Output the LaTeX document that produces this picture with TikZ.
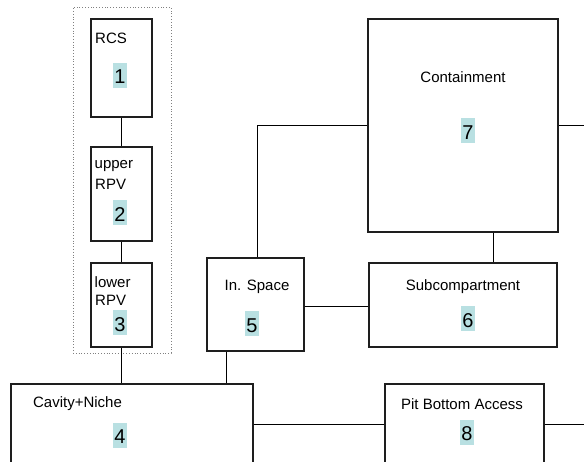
\documentclass[tikz,border=0pt]{standalone}
\usepackage{fontspec}
\setmainfont{Liberation Sans}
\usetikzlibrary{calc}
\definecolor{hl}{RGB}{185,224,226}
\definecolor{boxline}{RGB}{30,30,30}
\tikzset{
  room/.style={draw=boxline, line width=1.4pt, rectangle, inner sep=0pt, fill=white},
  lbl/.style={font=\fontsize{15}{17}\selectfont, inner sep=0pt},
  num/.style={fill=hl, font=\fontsize{20}{24}\selectfont, inner xsep=1.5pt, inner ysep=0pt, text height=21pt, text depth=4pt},
  link/.style={draw=black, line width=0.9pt},
  group/.style={draw=gray, dotted, line width=0.8pt}
}
\begin{document}
\begin{tikzpicture}[x=1pt,y=-1pt]
\useasboundingbox (0,0) rectangle (584,462);
\begin{scope}
\clip (0,0) rectangle (584,462);
% group outline
\node[group, minimum width=98pt, minimum height=346pt, inner sep=0pt] (grp) at (122,180) {};
% boxes
\node[room, minimum width=61pt, minimum height=98pt] (b1) at (121.5,68) {};
\node[room, minimum width=61pt, minimum height=94pt] (b2) at (121.5,194) {};
\node[room, minimum width=61pt, minimum height=84pt] (b3) at (121.5,305) {};
\node[room, minimum width=97pt, minimum height=93pt] (b5) at (255.5,304.5) {};
\node[room, minimum width=188pt, minimum height=84pt] (b6) at (463,305) {};
\node[room, minimum width=190pt, minimum height=213pt] (b7) at (463,125.5) {};
\node[room, minimum width=242pt, minimum height=80pt] (b4) at (132,424) {};
\node[room, minimum width=159pt, minimum height=80pt] (b8) at (464.5,424) {};
% free ends
\coordinate (e7) at (590,125.5);
\coordinate (e8) at (590,424);
% connectors
\draw[link] (b1.south) -- (b2.north);
\draw[link] (b2.south) -- (b3.north);
\draw[link] (b3.south) -- (b3.south |- b4.north);
\draw[link] ([xshift=20pt]b5.south west) -- ([xshift=20pt]b5.south west |- b4.north);
\draw[link] ([xshift=1.5pt]b5.north) |- (b7.west);
\draw[link] ([yshift=-1.5pt]b5.east) -- ([yshift=-1.5pt]b5.east -| b6.west);
\draw[link] ([xshift=30pt]b7.south) -- ([xshift=30pt]b6.north);
\draw[link] (b7.east) -- (e7);
\draw[link] (b4.east) -- (b8.west);
\draw[link] (b8.east) -- (e8);
% labels
\node[lbl, anchor=west] (t1) at (95,38) {RCS};
\node[num] (n1) at (120,75.5) {1};
\node[lbl, anchor=west] (t2a) at (94.5,166) {upper};
\node[lbl, anchor=west] (t2b) at (95,184) {RPV};
\node[num] (n2) at (120,213) {2};
\node[lbl, anchor=west] (t3a) at (94.5,282) {lower};
\node[lbl, anchor=west] (t3b) at (95,300) {RPV};
\node[num] (n3) at (120,323) {3};
\node[lbl] (t5) at (257,287) {In. Space};
\node[num] (n5) at (252,324) {5};
\node[lbl] (t6) at (463,287) {Subcompartment};
\node[num] (n6) at (468,319) {6};
\node[lbl] (t7) at (463,77) {Containment};
\node[num] (n7) at (468,131) {7};
\node[lbl] (t4) at (77.5,404) {Cavity+Niche};
\node[num] (n4) at (120,435) {4};
\node[lbl] (t8) at (462,404) {Pit Bottom Access};
\node[num] (n8) at (467,432) {8};
\end{scope}
\end{tikzpicture}
\end{document}
